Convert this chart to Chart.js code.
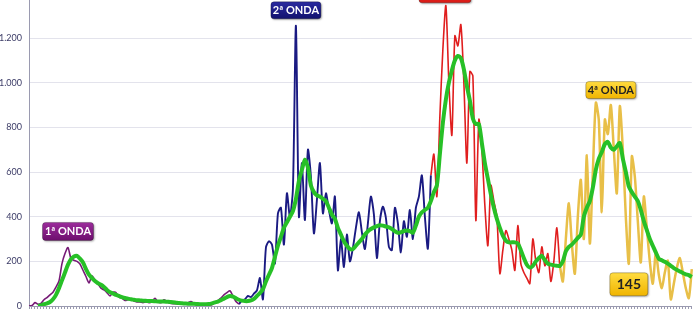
<!DOCTYPE html>
<html>
<head>
<meta charset="utf-8">
<script src="https://cdn.jsdelivr.net/npm/chart.js@4.4.1/dist/chart.umd.min.js"></script>
<style>
  html, body { margin: 0; padding: 0; width: 700px; height: 310px; overflow: hidden; background: #fff; }
  #wrap { position: absolute; left: 0; top: -19px; width: 700px; height: 365px; }
</style>
</head>
<body>
<div id="wrap"><canvas id="chart"></canvas></div>
<script>
// categories: one sample every ~2-3 days (labels sit below the visible area)
const categories = [];
const start = new Date(2020, 2, 1);
for (let i = 0; i < 222; i++) {
    const d = new Date(start.getTime() + i * 2.3 * 86400000);
    categories.push(String(d.getDate()).padStart(2, '0') + '/' + String(d.getMonth() + 1).padStart(2, '0') + '/' + String(d.getFullYear()).slice(2));
}

const yTicks = [0, 200, 400, 600, 800, 1000, 1200, 1400];

// 1st wave (purple), starts at category 0
const wave1Start = 0;
const wave1 = [0,2,15,8,12,28,38,50,62,85, 112,190,235,262,212,205,200,188,160,132,
    103,135,115,100,80,72,60,45,62,60, 40,35,25,28,32,22,18,18,15,18,
    15,20,35,18,15,28,20,12,10,10, 8,10,12,15,20,12,8,5,5,8,
    5,6,15,25,35,50,60,68,45,20, 8];

// 2nd wave (navy)
const wave2Start = 70;
const wave2 = [8,25,30,45,40,55,70,125,30,262, 290,275,190,415,440,275,505,400,525,1255,
    400,640,385,700,580,325,475,640,415,505, 430,370,490,160,300,175,320,200,260,350,
    420,330,255,370,490,410,215,380,445,395, 265,250,440,370,240,380,310,430,300,440,
    490,585,400,257,585];

// 3rd wave (red)
const wave3Start = 134;
const wave3 = [585,680,490,850,1150,1345,1000,765,1210,1165, 1260,1000,640,1050,1030,383,835,700,450,270,
    540,470,400,145,250,338,300,250,160,360, 190,150,125,100,300,200,150,265,180,235,
    110,200,350,170];

// 4th wave (gold)
const wave4Start = 177;
const wave4 = [180,110,300,460,280,145,400,565,300,675, 280,600,910,830,420,835,770,900,700,505,
    895,700,400,190,670,580,380,195,490,350, 200,100,240,140,80,150,203,30,100,170,
    215,150,80,35,165];

// moving average (green)
const avgStart = 3;
const movingAvg = [0,3,8,12,18,30,50,80,115,150, 185,210,222,225,212,195,165,140,125,112,
    102,95,85,72,62,56,50,45,40,36, 33,30,28,26,25,24,23,22,22,21,
    20,20,20,19,18,17,15,13,12,11, 10,10,10,9,8,8,8,9,12,16,
    20,26,33,40,45,42,35,28,24,22, 22,25,32,45,58,75,110,140,170,220,
    270,310,350,375,400,425,480,560,610,655, 620,540,510,495,490,480,470,440,410,390,
    350,320,290,270,255,255,270,285,300,320, 335,345,352,358,362,360,356,352,345,335,
    328,330,336,338,335,328,360,400,420,430, 440,470,510,540,680,820,925,1000,1055,1100,
    1120,1110,1060,985,920,840,815,815,730,640, 570,500,440,390,350,315,293,285,285,285,
    280,250,215,185,172,180,200,215,225,205, 190,185,182,180,180,200,245,265,275,290,
    305,320,400,440,470,530,610,660,690,725, 735,710,700,715,730,660,600,535,510,490,
    470,430,380,340,300,270,240,212,205,198, 190,180,170,162,155,148,142,138,130];

// text boxes, anchored in data space
const boxes = [
    { text: '1ª ONDA', index: 13, value: 334, w: 51, h: 18, top: '#9b2c9b', bottom: '#6e0f6e', color: '#fff', size: 11 },
    { text: '2ª ONDA', index: 89, value: 1324, w: 50, h: 17, top: '#2a2aa0', bottom: '#12126e', color: '#fff', size: 11 },
    { text: '3ª ONDA', index: 138.7, value: 1398, w: 52, h: 18, top: '#f03a30', bottom: '#d81a16', color: '#fff', size: 11 },
    { text: '4ª ONDA', index: 194, value: 967, w: 50, h: 17, top: '#ffdc40', bottom: '#f0b400', color: '#222', size: 11 },
    { text: '145', index: 200, value: 97, w: 38, h: 23, top: '#ffdc40', bottom: '#f0b400', color: '#222', size: 14 }
];

function pad(startIdx, values) {
    const out = new Array(categories.length).fill(null);
    values.forEach((v, i) => { out[startIdx + i] = v; });
    return out;
}

function fmt(n) {
    return String(n).replace(/\B(?=(\d{3})+(?!\d))/g, '.');
}

const boxPlugin = {
    id: 'waveBoxes',
    afterDatasetsDraw(chart) {
        const ctx = chart.ctx;
        const xs = chart.scales.x;
        const ys = chart.scales.y;
        boxes.forEach(b => {
            const cx = xs.getPixelForValue(b.index);
            const cy = ys.getPixelForValue(b.value);
            const x0 = cx - b.w / 2;
            const y0 = cy - b.h / 2;
            ctx.save();
            const g = ctx.createLinearGradient(0, y0, 0, y0 + b.h);
            g.addColorStop(0, b.top);
            g.addColorStop(1, b.bottom);
            ctx.shadowColor = 'rgba(0,0,0,0.35)';
            ctx.shadowBlur = 2;
            ctx.shadowOffsetX = 1;
            ctx.shadowOffsetY = 1;
            ctx.fillStyle = g;
            ctx.beginPath();
            ctx.roundRect(x0, y0, b.w, b.h, 3);
            ctx.fill();
            ctx.shadowColor = 'transparent';
            ctx.strokeStyle = 'rgba(0,0,0,0.25)';
            ctx.lineWidth = 1;
            ctx.stroke();
            ctx.fillStyle = b.color;
            ctx.font = 'bold ' + b.size + 'px Lato, "Open Sans", sans-serif';
            ctx.textAlign = 'center';
            ctx.textBaseline = 'middle';
            ctx.fillText(b.text, cx, cy + 0.5);
            ctx.restore();
        });
    }
};

const ctx = document.getElementById('chart').getContext('2d');
new Chart(ctx, {
    type: 'line',
    data: {
        labels: categories,
        datasets: [
            { label: 'Média', data: pad(avgStart, movingAvg), borderColor: '#27c027', borderWidth: 4 },
            { label: '1ª onda', data: pad(wave1Start, wave1), borderColor: '#761a76', borderWidth: 1.6 },
            { label: '2ª onda', data: pad(wave2Start, wave2), borderColor: '#1a1a82', borderWidth: 1.9 },
            { label: '3ª onda', data: pad(wave3Start, wave3), borderColor: '#e01e1e', borderWidth: 1.6 },
            { label: '4ª onda', data: pad(wave4Start, wave4), borderColor: '#e8bf48', borderWidth: 2.5 }
        ]
    },
    options: {
        responsive: true,
        maintainAspectRatio: false,
        animation: false,
        layout: { padding: { top: 12, right: 7, left: 0, bottom: 0 } },
        elements: {
            point: { radius: 0 },
            line: { tension: 0.25, borderJoinStyle: 'round', fill: false }
        },
        plugins: {
            legend: { display: false },
            tooltip: { enabled: false }
        },
        scales: {
            x: {
                afterFit: s => { s.height = 40; },
                border: { color: '#9a9ab0' },
                grid: { display: true, drawOnChartArea: false, drawTicks: true, tickLength: 3, color: '#9a9ab0' },
                ticks: {
                    autoSkip: false,
                    maxRotation: 90,
                    minRotation: 90,
                    padding: 1,
                    font: { size: 6, family: 'Lato' },
                    color: '#666',
                    callback: function(v, i) { return i % 2 === 0 ? this.getLabelForValue(v) : ''; }
                }
            },
            y: {
                min: 0,
                max: 1400,
                afterFit: s => { s.width = 29; },
                afterBuildTicks: s => { s.ticks = yTicks.map(v => ({ value: v })); },
                border: { color: '#9a9ab0' },
                grid: { color: '#e3e3ec', drawTicks: false },
                ticks: {
                    padding: 7,
                    font: { size: 9, family: 'Lato' },
                    color: '#3b3b66',
                    callback: v => fmt(v)
                }
            }
        }
    },
    plugins: [boxPlugin]
});
</script>
</body>
</html>
